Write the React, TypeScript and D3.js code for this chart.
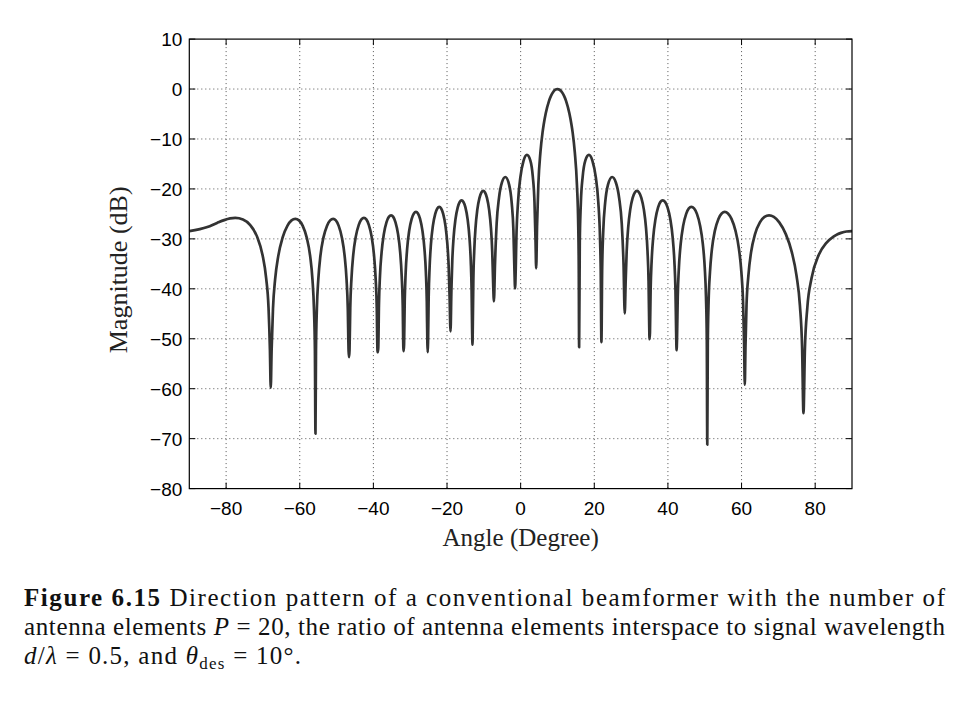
import React from 'react';
import * as d3 from 'd3';

// Beam pattern: angle (degrees) and magnitude (dB)
const angleDeg: number[] = [
  -90, -85.1, -82.46, -80.52, -78.92, -77.52, -75.43, -73.51, -71.59, -70.11, -69.12, -68.48, -68.1, -67.88,
  -67.65, -67.27, -66.69, -65.83, -64.67, -63.36, -62.23, -61.21, -60.21, -59.19, -58.1, -57.18, -56.55, -56.14, -55.88, -55.73,
  -55.59, -55.35, -54.96, -54.39, -53.57, -52.61, -51.75, -50.93, -50.19, -49.42, -48.55, -47.81, -47.29, -46.95, -46.73, -46.6,
  -46.48, -46.28, -45.95, -45.47, -44.78, -43.97, -43.25, -42.56, -41.92, -41.24, -40.48, -39.84, -39.39, -39.08, -38.89, -38.78,
  -38.67, -38.49, -38.21, -37.77, -37.16, -36.45, -35.8, -35.19, -34.61, -33.99, -33.3, -32.72, -32.31, -32.03, -31.86, -31.76,
  -31.66, -31.49, -31.23, -30.83, -30.27, -29.6, -29.0, -28.44, -27.89, -27.32, -26.68, -26.13, -25.74, -25.49, -25.33, -25.23,
  -25.14, -24.98, -24.73, -24.36, -23.83, -23.2, -22.64, -22.11, -21.59, -21.04, -20.43, -19.91, -19.54, -19.3, -19.05,
  -18.81, -18.57, -18.21, -17.7, -17.09, -16.55, -16.04, -15.54, -15.0, -14.41, -13.91, -13.55, -13.32, -13.17, -13.08,
  -12.99, -12.85, -12.61, -12.26, -11.77, -11.18, -10.66, -10.16, -9.67, -9.15, -8.57, -8.07, -7.72, -7.49, -7.26,
  -6.97, -6.51, -5.88, -5.08, -4.16, -3.12, -2.43, -1.97, -1.68, -1.51,
  -1.34, -1.17, -0.71, -0.08, 0.78, 1.7, 2.62, 3.3, 3.76, 4.05, 4.22,
  4.45, 4.8, 5.38, 5.95, 6.24, 6.82, 7.69, 8.27, 8.84, 9.42, 10, 10.59, 11.18, 11.76, 12.35, 13.23, 13.82, 14.12, 14.7, 15.29, 15.65, 15.79, 15.88,
  16.06, 16.36, 16.85, 17.58, 18.54, 19.5, 20.42, 21.09, 21.57, 21.75, 21.94,
  22.13, 22.45, 22.95, 23.71, 24.85, 25.86, 26.75, 27.45, 27.95, 28.27,
  28.53, 28.8, 29.2, 29.76, 30.42, 31.02, 31.58, 32.16, 32.78, 33.47, 34.05, 34.46, 34.74, 34.91, 35.01,
  35.12, 35.3, 35.58, 36.01, 36.62, 37.33, 37.97, 38.58, 39.22, 39.9, 40.65, 41.29, 41.75, 42.05, 42.24, 42.35,
  42.47, 42.67, 42.99, 43.47, 44.15, 44.96, 45.68, 46.36, 47.1, 47.88, 48.74, 49.48, 50.0, 50.34, 50.56, 50.69,
  50.83, 51.05, 51.42, 51.96, 52.76, 53.72, 54.6, 55.45, 56.31, 57.27, 58.35, 59.29, 59.96, 60.41, 60.7, 60.88,
  61.06, 61.35, 61.85, 62.58, 63.66, 64.98, 66.23, 67.47, 68.77, 70.25, 72.02, 73.67, 74.94, 75.85, 76.45, 76.82,
  77.2, 77.86, 79.01, 80.98, 83.05, 84.97, 86.07, 87.01, 88.5, 90,
];

const magnitudeDb: number[] = [
  -28.46, -27.64, -26.8, -26.24, -25.91, -25.8, -26.11, -27.19, -29.55, -33.22, -37.9, -43.8, -52.3, -59.8,
  -52.5, -44.0, -38.1, -33.4, -29.75, -27.4, -26.3, -26.0, -26.3, -27.4, -29.75, -33.4, -38.1, -44.0, -52.5, -69.0,
  -52.5, -44.0, -38.1, -33.4, -29.75, -27.4, -26.3, -26.0, -26.3, -27.4, -29.75, -33.4, -38.1, -44.0, -52.5, -53.7,
  -52.3, -43.8, -37.9, -33.2, -29.55, -27.2, -26.1, -25.8, -26.1, -27.2, -29.55, -33.2, -37.9, -43.8, -52.3, -52.7,
  -51.8, -43.3, -37.4, -32.7, -29.05, -26.7, -25.6, -25.3, -25.6, -26.7, -29.05, -32.7, -37.4, -43.3, -51.8, -52.5,
  -51.1, -42.6, -36.7, -32.0, -28.35, -26.0, -24.9, -24.6, -24.9, -26.0, -28.35, -32.0, -36.7, -42.6, -51.1, -52.7,
  -50.1, -41.6, -35.7, -31.0, -27.35, -25.0, -23.9, -23.6, -23.9, -25.0, -27.35, -31.0, -35.7, -41.6, -48.5,
  -40.3, -34.4, -29.7, -26.05, -23.7, -22.6, -22.3, -22.6, -23.7, -26.05, -29.7, -34.4, -40.3, -48.8, -51.2,
  -46.9, -38.4, -32.5, -27.8, -24.15, -21.8, -20.7, -20.4, -20.7, -21.8, -24.15, -27.8, -32.5, -38.4, -42.5,
  -35.14, -26.83, -21.78, -18.7, -17.61, -19.18, -22.81, -28.23, -36.47, -39.9,
  -36.2, -30.11, -22.63, -17.7, -14.37, -13.2, -14.29, -17.53, -22.66, -30.69, -35.9,
  -27.6, -19.2, -12.6, -8.67, -7.19, -4.85, -2.41, -1.32, -0.58, -0.14, 0, -0.14, -0.58, -1.32, -2.41, -4.85, -7.19, -8.67, -12.6, -19.2, -27.6, -36.3, -51.7,
  -30.69, -22.66, -17.53, -14.29, -13.2, -14.37, -17.7, -22.63, -30.11, -36.2, -50.7,
  -36.47, -28.23, -22.81, -19.18, -17.61, -18.7, -21.78, -26.83, -35.14, -44.9,
  -38.4, -32.5, -27.8, -24.15, -21.8, -20.7, -20.4, -20.7, -21.8, -24.15, -27.8, -32.5, -38.4, -46.9, -50.1,
  -48.8, -40.3, -34.4, -29.7, -26.05, -23.7, -22.6, -22.3, -22.6, -23.7, -26.05, -29.7, -34.4, -40.3, -48.8, -52.3,
  -50.1, -41.6, -35.7, -31.0, -27.35, -25.0, -23.9, -23.6, -23.9, -25.0, -27.35, -31.0, -35.7, -41.6, -50.1, -71.2,
  -51.1, -42.6, -36.7, -32.0, -28.35, -26.0, -24.9, -24.6, -24.9, -26.0, -28.35, -32.0, -36.7, -42.6, -51.1, -59.2,
  -51.8, -43.3, -37.4, -32.7, -29.05, -26.7, -25.6, -25.3, -25.6, -26.7, -29.05, -32.7, -37.4, -43.3, -51.8, -64.9,
  -52.3, -43.8, -37.9, -33.2, -30.8, -29.55, -29.07, -28.8, -28.52, -28.44,
];

const xDomain: number[] = [-90, 90];
const yDomain: number[] = [-80, 10];
const xTickValues: number[] = [-80, -60, -40, -20, 0, 20, 40, 60, 80];
const yTickValues: number[] = [10, 0, -10, -20, -30, -40, -50, -60, -70, -80];
const xLabel = 'Angle (Degree)';
const yLabel = 'Magnitude (dB)';

export default function App() {
  const W = 970;
  const H = 701;
  const left = 189.3;
  const right = 852;
  const top = 39.1;
  const bottom = 488.6;

  const x = d3.scaleLinear().domain(xDomain).range([left, right]);
  const y = d3.scaleLinear().domain(yDomain).range([bottom, top]);

  const n = Math.min(angleDeg.length, magnitudeDb.length);
  const pts: [number, number][] = [];
  for (let i = 0; i < n; i++) pts.push([angleDeg[i], magnitudeDb[i]]);

  const line = d3
    .line<[number, number]>()
    .x((d) => x(d[0]))
    .y((d) => y(d[1]))
    .curve(d3.curveMonotoneX);

  const fmt = (v: number) => (v < 0 ? '\u2212' + Math.abs(v) : String(v));
  const tickLen = 6;
  const gridColor = '#555';
  const tickFont = '"Liberation Sans", Arial, sans-serif';
  const serif = '"Liberation Serif", "Times New Roman", serif';

  return (
    <svg
      width={W}
      height={H}
      viewBox={`0 0 ${W} ${H}`}
      style={{ position: 'absolute', left: 0, top: 0, background: '#fff' }}
    >
      <rect x={0} y={0} width={W} height={H} fill="#fff" />
      {/* grid */}
      <g stroke={gridColor} strokeWidth={1} strokeDasharray="1 3" fill="none">
        {xTickValues.map((t) => (
          <line key={'gx' + t} x1={x(t)} x2={x(t)} y1={top} y2={bottom} />
        ))}
        {yTickValues
          .filter((t) => t !== yDomain[0] && t !== yDomain[1])
          .map((t) => (
            <line key={'gy' + t} x1={left} x2={right} y1={y(t)} y2={y(t)} />
          ))}
      </g>
      {/* curve */}
      <path
        d={line(pts) || ''}
        fill="none"
        stroke="#333"
        strokeWidth={2.7}
        strokeLinejoin="round"
        strokeLinecap="butt"
      />
      {/* axes box */}
      <rect x={left} y={top} width={right - left} height={bottom - top} fill="none" stroke="#000" strokeWidth={1.2} />
      {/* ticks */}
      <g stroke="#000" strokeWidth={1}>
        {xTickValues.map((t) => (
          <g key={'tx' + t}>
            <line x1={x(t)} x2={x(t)} y1={bottom} y2={bottom - tickLen} />
            <line x1={x(t)} x2={x(t)} y1={top} y2={top + tickLen} />
          </g>
        ))}
        {yTickValues.map((t) => (
          <g key={'ty' + t}>
            <line x1={left} x2={left + tickLen} y1={y(t)} y2={y(t)} />
            <line x1={right} x2={right - tickLen} y1={y(t)} y2={y(t)} />
          </g>
        ))}
      </g>
      {/* tick labels */}
      <g fontFamily={tickFont} fontSize={19} fill="#000">
        {xTickValues.map((t) => (
          <text key={'lx' + t} x={x(t)} y={bottom + 26} textAnchor="middle">
            {fmt(t)}
          </text>
        ))}
        {yTickValues.map((t) => (
          <text key={'ly' + t} x={left - 7} y={y(t) + 7} textAnchor="end">
            {fmt(t)}
          </text>
        ))}
      </g>
      {/* axis titles */}
      <text x={(left + right) / 2} y={546} textAnchor="middle" fontFamily={serif} fontSize={25} fill="#222">
        {xLabel}
      </text>
      <text
        transform={`translate(127, ${(top + bottom) / 2 + 6}) rotate(-90)`}
        textAnchor="middle"
        fontFamily={serif}
        fontSize={26}
        fill="#222"
      >
        {yLabel}
      </text>
      {/* caption */}
      <g fontFamily={serif} fontSize={25} fill="#111">
        <text x={24} y={606} textLength={921} lengthAdjust="spacing">
          <tspan fontWeight="bold">Figure 6.15</tspan> Direction pattern of a conventional beamformer with the number of
        </text>
        <text x={24} y={635} textLength={921} lengthAdjust="spacing">
          antenna elements <tspan fontStyle="italic">P</tspan> = 20, the ratio of antenna elements interspace to signal wavelength
        </text>
        <text x={24} y={664} textLength={277} lengthAdjust="spacing">
          <tspan fontStyle="italic">d</tspan>/<tspan fontStyle="italic">λ</tspan> = 0.5, and{' '}
          <tspan fontStyle="italic">θ</tspan>
          <tspan fontSize={17} dy={5}>des</tspan>
          <tspan dy={-5}> = 10°.</tspan>
        </text>
      </g>
    </svg>
  );
}
